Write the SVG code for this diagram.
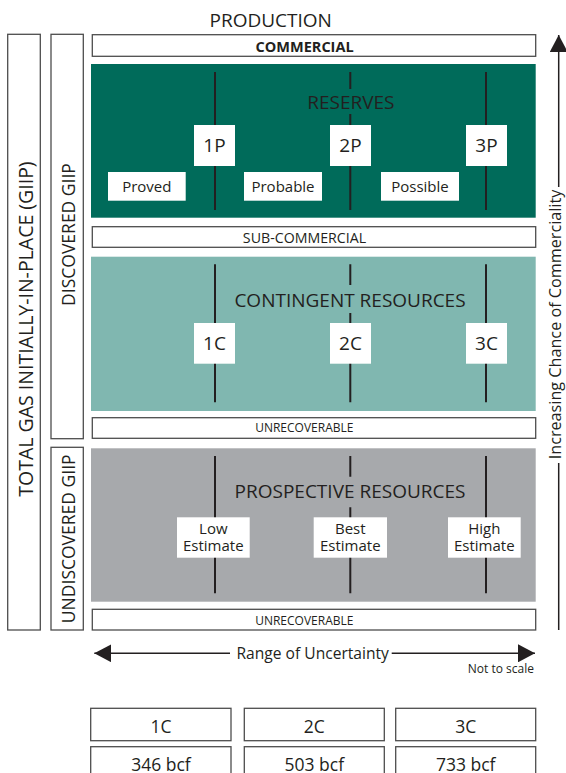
<svg xmlns="http://www.w3.org/2000/svg" width="566" height="773" viewBox="0 0 566 773">
<defs>
<marker id="ah" viewBox="0 0 17 18" refX="17" refY="9" markerWidth="17" markerHeight="18" orient="auto" markerUnits="userSpaceOnUse">
<path d="M0,0 L17,9 L0,18 z" fill="#231f20"/>
</marker>
<style>
text{font-family:"Open Sans","Noto Sans","DejaVu Sans",sans-serif;fill:#231f20}
.box{fill:#fff;stroke:#4d4d4d;stroke-width:1.3}
.lbl{fill:#fff}
.vl{stroke:#231f20;stroke-width:2;fill:none}
.big{font-size:19px;text-anchor:middle}
.mid{font-size:15px;text-anchor:middle}
.sm{font-size:14.2px;text-anchor:middle}
.xs{font-size:12px;text-anchor:middle}
.side{font-size:17.5px;text-anchor:middle}
.ar{stroke:#231f20;stroke-width:1.5;fill:none}
</style>
</defs>
<rect width="566" height="773" fill="#fff"/>

<g id="production"><text x="270.7" y="26.7" class="big">PRODUCTION</text></g>

<g id="total-giip">
<rect class="box" x="7.7" y="34.3" width="32.6" height="595.7"/>
<text class="side" transform="translate(33,329) rotate(-90)" style="font-size:19.5px">TOTAL GAS INITIALLY-IN-PLACE (GIIP)</text>
</g>
<g id="discovered-giip">
<rect class="box" x="51" y="34.3" width="32.3" height="404.4"/>
<text class="side" transform="translate(75,234.5) rotate(-90)">DISCOVERED GIIP</text>
</g>
<g id="undiscovered-giip">
<rect class="box" x="51" y="447.3" width="32.3" height="182.7"/>
<text class="side" transform="translate(75,538.8) rotate(-90)">UNDISCOVERED GIIP</text>
</g>

<g id="commercial">
<rect class="box" x="92.3" y="34.7" width="443.4" height="21.6"/>
<text x="304.6" y="51.5" class="sm" style="font-weight:bold;font-size:14.5px">COMMERCIAL</text>
</g>

<g id="reserves">
<rect x="91" y="64" width="444.7" height="153.7" fill="#006b5a"/>
<path class="vl" d="M215,72V210 M350.3,72V89 M350.3,114V210 M486,72V210"/>
<text x="350.9" y="108.5" class="big">RESERVES</text>
<rect class="lbl" x="194" y="125" width="41" height="41"/>
<text x="214.5" y="152" class="big">1P</text>
<rect class="lbl" x="330" y="125" width="41" height="41"/>
<text x="350.5" y="152" class="big">2P</text>
<rect class="lbl" x="466" y="125" width="41" height="41"/>
<text x="486.5" y="152" class="big">3P</text>
<rect class="lbl" x="108" y="172" width="77.7" height="28.7"/>
<text x="146.8" y="192.2" class="mid">Proved</text>
<rect class="lbl" x="244" y="172" width="78" height="28.7"/>
<text x="283" y="192.2" class="mid">Probable</text>
<rect class="lbl" x="381" y="172" width="78" height="28.7"/>
<text x="420" y="192.2" class="mid">Possible</text>
</g>

<g id="sub-commercial">
<rect class="box" x="92.3" y="226.7" width="443.4" height="20.6"/>
<text x="304.5" y="242.7" class="sm">SUB-COMMERCIAL</text>
</g>

<g id="contingent">
<rect x="91" y="256.7" width="444.7" height="154.3" fill="#80b7b0"/>
<path class="vl" d="M215,264.3V402.3 M350.3,264.3V285 M350.3,313V402.3 M486,264.3V402.3"/>
<text x="350" y="307.3" class="big">CONTINGENT RESOURCES</text>
<rect class="lbl" x="194" y="323" width="41" height="40.7"/>
<text x="214.5" y="350" class="big">1C</text>
<rect class="lbl" x="330" y="323" width="41" height="40.7"/>
<text x="350.5" y="350" class="big">2C</text>
<rect class="lbl" x="466" y="323" width="41" height="40.7"/>
<text x="486.5" y="350" class="big">3C</text>
</g>

<g id="unrecoverable-1">
<rect class="box" x="92.3" y="417.7" width="443.4" height="20.6"/>
<text x="304.3" y="432.3" class="xs">UNRECOVERABLE</text>
</g>

<g id="prospective">
<rect x="91" y="448.3" width="444.7" height="153.4" fill="#a7a9ac"/>
<path class="vl" d="M215,456V593.3 M350.3,456V476.7 M350.3,507.3V593.3 M486,456V593.3"/>
<text x="350" y="497.7" class="big">PROSPECTIVE RESOURCES</text>
<rect class="lbl" x="177" y="517.3" width="72.7" height="40.4"/>
<text x="213.3" y="534.3" class="mid">Low</text>
<text x="213.3" y="550.7" class="mid">Estimate</text>
<rect class="lbl" x="313.7" y="517.3" width="73.3" height="40.4"/>
<text x="350.3" y="534.3" class="mid">Best</text>
<text x="350.3" y="550.7" class="mid">Estimate</text>
<rect class="lbl" x="448" y="517.3" width="72.7" height="40.4"/>
<text x="484.3" y="534.3" class="mid">High</text>
<text x="484.3" y="550.7" class="mid">Estimate</text>
</g>

<g id="unrecoverable-2">
<rect class="box" x="92.3" y="609.3" width="443.4" height="20.7"/>
<text x="304.3" y="624.5" class="xs">UNRECOVERABLE</text>
</g>

<g id="connectors">
<line class="ar" x1="230" y1="653.3" x2="94.3" y2="653.3" marker-end="url(#ah)"/>
<line class="ar" x1="391.7" y1="653.3" x2="535" y2="653.3" marker-end="url(#ah)"/>
<line class="ar" x1="558.7" y1="187" x2="558.7" y2="35" marker-end="url(#ah)"/>
<line class="ar" x1="558.7" y1="463" x2="558.7" y2="630"/>
</g>

<g id="axis-labels">
<text x="312.7" y="658.5" class="mid" style="font-size:15.6px">Range of Uncertainty</text>
<text x="534" y="673" style="font-size:12px;text-anchor:end">Not to scale</text>
<text transform="translate(561,324.5) rotate(-90)" class="mid" style="font-size:16.2px">Increasing Chance of Commerciality</text>
</g>

<g id="table">
<rect class="box" x="90.7" y="708.3" width="140.3" height="32.4"/>
<text x="161" y="733.3" class="side">1C</text>
<rect class="box" x="244.3" y="708.3" width="140" height="32.4"/>
<text x="314.3" y="733.3" class="side">2C</text>
<rect class="box" x="395.7" y="708.3" width="140" height="32.4"/>
<text x="465.7" y="733.3" class="side">3C</text>
<rect class="box" x="90.7" y="746.7" width="140.3" height="40"/>
<text x="161" y="770.5" class="side">346 bcf</text>
<rect class="box" x="244.3" y="746.7" width="140" height="40"/>
<text x="314.3" y="770.5" class="side">503 bcf</text>
<rect class="box" x="395.7" y="746.7" width="140" height="40"/>
<text x="465.7" y="770.5" class="side">733 bcf</text>
</g>
</svg>
